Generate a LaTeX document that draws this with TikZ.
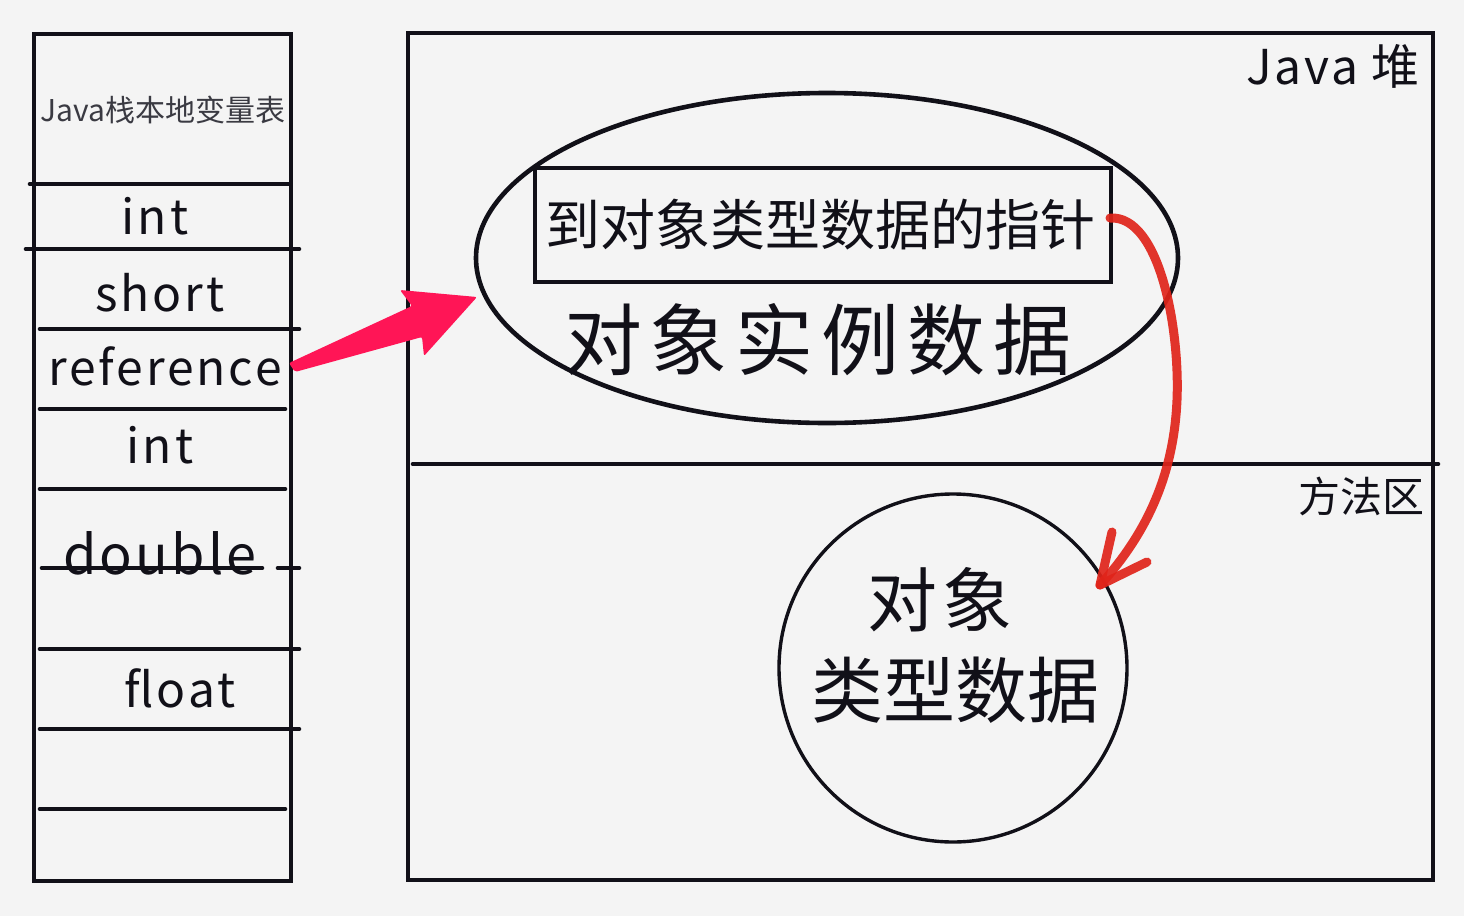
\documentclass[tikz,border=0pt]{standalone}
\usepackage{fontspec}
\setmainfont{Noto Sans CJK SC}
\newfontfamily\cjk{Noto Sans CJK SC}
\newfontfamily\cjkwide[LetterSpace=6]{Noto Sans CJK SC}
\usetikzlibrary{arrows.meta}
\definecolor{paper}{HTML}{F4F4F4}
\definecolor{ink}{HTML}{111018}
\definecolor{pinkarrow}{HTML}{FF1556}
\definecolor{redarrow}{HTML}{E0241A}
\definecolor{thingray}{HTML}{3A3A42}
\tikzset{
  frame/.style={draw=ink, line width=2.3pt},
  rowline/.style={draw=ink, line width=2.3pt, line cap=round},
  cell/.style={text=ink, font=\cjkwide\fontsize{24}{26}\selectfont, inner sep=0pt},
  bigtxt/.style={text=ink, inner sep=0pt},
}
\begin{document}
\begin{tikzpicture}[x=0.5pt, y=-0.5pt]
\fill[paper] (0,0) rectangle (1464,916);
\useasboundingbox (0,0) rectangle (1464,916);

% left stack
\draw[frame] (34,34) rectangle (291,881);
\draw[rowline] (30,184) -- (289,184);
\draw[rowline] (26,249) -- (299,249);
\draw[rowline] (40,329) -- (299,329);
\draw[rowline] (40,409) -- (285,409);
\draw[rowline] (40,489) -- (285,489);
\draw[rowline] (42,568) -- (262,568);
\draw[rowline] (278,568) -- (299,568);
\draw[rowline] (40,649) -- (299,649);
\draw[rowline] (40,729) -- (299,729);
\draw[rowline] (40,809) -- (285,809);

\node[text=thingray, inner sep=0pt, font=\cjk\fontsize{15}{17}\selectfont] (title) at (163,110) {Java栈本地变量表};
\node[cell] (c1) at (155,216) {int};
\node[cell] (c2) at (160,293) {short};
\node[cell] (ref) at (165,366) {reference};
\node[cell] (c4) at (160,445) {int};
\node[cell, font=\cjkwide\fontsize{27}{29}\selectfont] (c5) at (160,553) {double};
\node[cell] (c6) at (180,688) {float};

% right area
\draw[frame] (408,33) rectangle (1433,880);
\draw[rowline] (413,464) -- (1438,464);
\node[bigtxt, font=\cjkwide\fontsize{24}{26}\selectfont] (heap) at (1333,66) {Java 堆};
\node[bigtxt, font=\cjk\fontsize{21}{23}\selectfont] (method) at (1361,496) {方法区};

% object ellipse
\draw[frame] (827,258) ellipse [x radius=351, y radius=165];
\node[draw=ink, line width=2.3pt, minimum width=288pt, minimum height=57pt, inner sep=0pt] (ptrbox) at (823,225) {};
\node[bigtxt, font=\cjk\fontsize{27.5}{30}\selectfont] (ptrtxt) at (820,225) {到对象类型数据的指针};
\node[bigtxt, font=\cjk\fontsize{39}{42}\selectfont] (inst) at (818,340) {对\hspace{4pt}象\hspace{4pt}实\hspace{4pt}例\hspace{4pt}数\hspace{4pt}据};

% type circle
\node[draw=ink, line width=1.7pt, circle, minimum size=174pt, inner sep=0pt] (typec) at (953,668) {};
\node[bigtxt, font=\cjk\fontsize{35}{38}\selectfont] (t1) at (940,600) {对\hspace{3pt}象};
\node[bigtxt, font=\cjk\fontsize{36}{38}\selectfont] (t2) at (955,690) {类型数据};

% pink arrow: reference -> ellipse
\coordinate (ptail) at (292,367);
\coordinate (ptip) at (477,297);
\fill[pinkarrow, rounded corners=1pt] (289,363) -- (412,306) -- (400,290) -- (ptip) -- (424,356) -- (422,337) -- (295,372) -- cycle;

% red arrow: pointer -> type circle
\coordinate (rstart) at (1110,218);
\coordinate (rtip) at (1100,585);
\draw[redarrow, line width=4.5pt, line cap=round, line join=round, opacity=0.92]
  (rstart) .. controls (1160,215) and (1180,330) .. (1177,400)
  .. controls (1174,470) and (1150,530) .. (rtip);
\draw[redarrow, line width=4.5pt, line cap=round, line join=round, opacity=0.92]
  (1112,532) -- (rtip) -- (1147,562);
\end{tikzpicture}
\end{document}
